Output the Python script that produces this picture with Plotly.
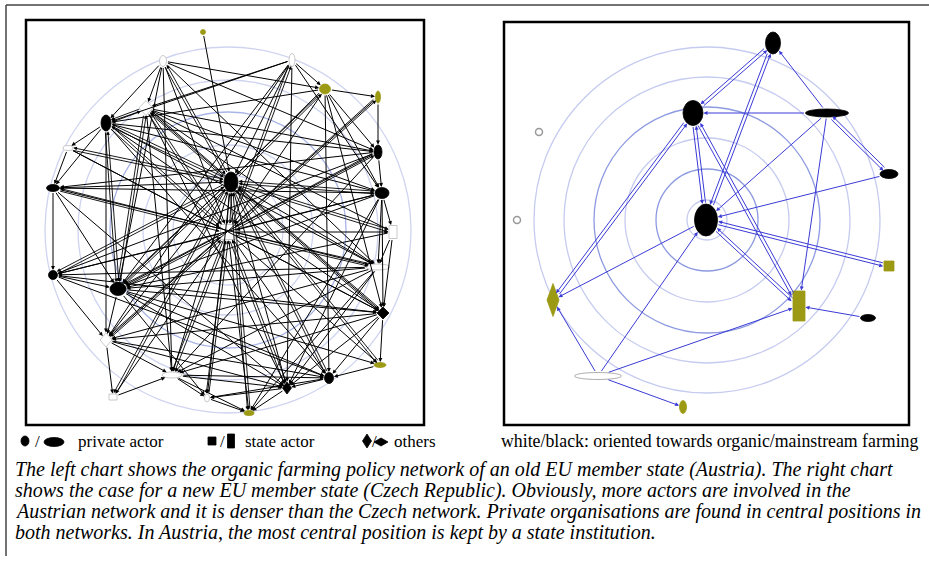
import math
import plotly.graph_objects as go

# ---------------- data ----------------
# Left network (Austria): node centres, node sizes, kind, colour
L_x = [203, 163, 292, 325, 378, 146, 106, 68, 378, 231, 53, 382, 228, 393, 378, 53, 118, 383, 106, 380, 172, 329, 287, 113, 207, 249]
L_y = [32, 61, 60, 89, 97, 108, 123, 148, 152, 182, 188, 193, 232, 232, 267, 275, 289, 313, 340, 365, 375, 378, 388, 397, 398, 413]
L_w = [5, 7, 6, 11, 5, 14, 10, 10, 8, 14, 13, 14, 15, 8, 24, 9, 16, 12, 12, 12, 20, 9, 9, 8, 5, 10]
L_h = [5, 11, 13, 10, 12, 15, 16, 5, 14, 20, 7, 11, 15, 13, 6, 9, 13, 12, 14, 5, 6, 11, 12, 6, 8, 5]
L_kind = ["e", "e", "e", "e", "e", "d", "e", "e", "e", "e", "e", "e", "r", "r", "e", "e", "e", "d", "d", "e", "e", "e", "d", "r", "e", "e"]
L_fill = ["o", "w", "w", "o", "o", "w", "k", "w", "k", "k", "k", "k", "w", "w", "w", "k", "k", "k", "w", "o", "w", "k", "k", "w", "w", "o"]
L_edges = [
    (0, 9),
    (1, 5), (1, 6), (1, 9), (1, 12), (1, 14), (1, 8), (1, 20), (1, 3), (1, 16),
    (2, 9), (2, 12), (2, 3), (2, 5), (2, 6), (2, 11), (2, 18), (2, 16), (2, 22),
    (3, 4), (3, 9), (3, 12), (3, 16), (3, 6), (3, 8), (3, 11), (3, 17), (3, 21),
    (4, 8), (4, 12), (4, 18),
    (5, 6), (5, 9), (5, 12), (5, 11), (5, 8), (5, 13), (5, 14), (5, 17), (5, 16), (5, 20), (5, 22),
    (6, 9), (6, 12), (6, 11), (6, 8), (6, 16), (6, 18), (6, 10), (6, 14), (6, 17), (6, 21), (6, 7),
    (7, 10), (7, 12), (7, 9), (7, 17),
    (8, 12), (8, 11), (8, 16), (8, 10), (8, 15), (8, 20),
    (9, 12), (9, 10), (9, 11), (9, 13), (9, 14), (9, 15), (9, 16), (9, 17), (9, 18), (9, 19),
    (9, 20), (9, 21), (9, 22), (9, 23), (9, 24), (9, 25),
    (10, 11), (10, 15), (10, 16), (10, 12), (10, 14), (10, 22),
    (11, 12), (11, 13), (11, 14), (11, 16), (11, 17), (11, 15), (11, 22), (11, 25),
    (12, 13), (12, 14), (12, 15), (12, 16), (12, 17), (12, 18), (12, 19), (12, 20), (12, 21),
    (12, 22), (12, 23), (12, 24), (12, 25),
    (13, 16), (13, 14), (13, 17),
    (14, 16), (14, 18), (14, 15), (14, 20), (14, 22), (14, 25),
    (15, 16), (15, 21), (15, 17), (15, 18),
    (16, 17), (16, 18), (16, 21), (16, 22), (16, 19), (16, 24),
    (17, 18), (17, 19), (17, 20), (17, 22), (17, 21),
    (18, 20), (18, 23), (18, 21), (18, 22),
    (19, 21),
    (20, 22), (20, 25), (20, 24), (20, 21),
    (21, 22), (21, 24), (22, 25), (22, 24), (23, 20), (24, 25),
]
L_hubs = [5, 6, 9, 12, 16]
L_radii = [55, 85, 118, 150, 183]
L_centre = (228, 230)

# Right network (Czech Republic)
R_x = [773, 693, 827, 889, 706, 889, 799, 868, 553, 598, 683, 539, 517]
R_y = [43, 113, 113, 174, 220, 266, 306, 318, 300, 376, 407, 132, 220]
R_w = [15, 20, 43, 18, 23, 10, 12, 15, 12, 47, 7, 7, 7]
R_h = [22, 25, 8, 9, 32, 10, 30, 7, 33, 7, 13, 7, 7]
R_kind = ["e", "e", "e", "e", "e", "r", "r", "e", "d", "e", "e", "e", "e"]
R_fill = ["k", "k", "k", "k", "k", "o", "o", "k", "o", "w", "o", "w", "w"]
R_double = [(0, 1), (0, 4), (2, 3), (1, 4), (1, 8), (1, 6), (4, 5), (4, 6)]
R_single = [(2, 0), (2, 1), (2, 4), (2, 6), (3, 4), (4, 8), (9, 8), (9, 4), (9, 6), (9, 10), (7, 6)]
R_radii = [20, 51, 82, 113, 143, 173]
R_dark = [False, True, False, True, False, False]
R_centre = (707, 220)

legend_items = ["private actor", "state actor", "others"]
legend_note = "white/black: oriented towards organic/mainstream farming"
caption_lines = [
    "The left chart shows the organic farming policy network of an old EU member state (Austria). The right chart",
    "shows the case for a new EU member state (Czech Republic). Obviously, more actors are involved in the",
    "Austrian network and it is denser than the Czech network. Private organisations are found in central positions in",
    "both networks. In Austria, the most central position is kept by a state institution.",
]

# ---------------- helpers ----------------
OLIVE = "#9c9a14"
FILL = {"k": "black", "w": "white", "o": OLIVE}
shapes = []
annotations = []


def node_shape(x, y, w, h, kind, fill, outline=None, lw=0.8):
    line = dict(color=outline or ("#bbbbbb" if fill == "w" else FILL[fill]), width=lw)
    if kind == "e":
        return dict(type="circle", xref="x", yref="y", x0=x - w / 2, x1=x + w / 2, y0=y - h / 2, y1=y + h / 2,
                    fillcolor=FILL[fill], line=line, layer="above")
    if kind == "r":
        return dict(type="rect", xref="x", yref="y", x0=x - w / 2, x1=x + w / 2, y0=y - h / 2, y1=y + h / 2,
                    fillcolor=FILL[fill], line=line, layer="above")
    path = f"M {x},{y - h / 2} L {x + w / 2},{y} L {x},{y + h / 2} L {x - w / 2},{y} Z"
    return dict(type="path", xref="x", yref="y", path=path, fillcolor=FILL[fill], line=line, layer="above")


def reach(w, h, kind, dx, dy):
    a, b = w / 2, h / 2
    if kind == "e":
        return a * b / math.sqrt((b * dx) ** 2 + (a * dy) ** 2)
    if kind == "r":
        return min(a / abs(dx) if dx else 1e9, b / abs(dy) if dy else 1e9)
    return 1 / (abs(dx) / a + abs(dy) / b)


def arrow(xs, ys, ws, hs, ks, s, t, color, width, size, offset=0.0):
    x0, y0, x1, y1 = xs[s], ys[s], xs[t], ys[t]
    d = math.hypot(x1 - x0, y1 - y0)
    dx, dy = (x1 - x0) / d, (y1 - y0) / d
    px, py = -dy * offset, dx * offset
    annotations.append(dict(
        x=x1 + px, y=y1 + py, ax=x0 + px, ay=y0 + py, xref="x", yref="y", axref="x", ayref="y",
        text="", showarrow=True, arrowhead=2, arrowsize=size, arrowwidth=width, arrowcolor=color,
        standoff=reach(ws[t], hs[t], ks[t], dx, dy) + 0.5,
        startstandoff=reach(ws[s], hs[s], ks[s], dx, dy),
    ))


# ---------------- frames ----------------
shapes.append(dict(type="line", xref="x", yref="y", x0=6, x1=929, y0=5, y1=5, line=dict(color="#444", width=1.5)))
shapes.append(dict(type="line", xref="x", yref="y", x0=6, x1=6, y0=5, y1=556, line=dict(color="#444", width=1.5)))
shapes.append(dict(type="rect", xref="x", yref="y", x0=26, x1=424, y0=20, y1=425, line=dict(color="black", width=2.5)))
shapes.append(dict(type="rect", xref="x", yref="y", x0=504, x1=909, y0=22, y1=425, line=dict(color="black", width=2.5)))

# concentric circles
for r in L_radii:
    col = "#a9b5e6" if r == 118 else "#cfd4f0"
    shapes.append(dict(type="circle", xref="x", yref="y", x0=L_centre[0] - r, x1=L_centre[0] + r,
                       y0=L_centre[1] - r, y1=L_centre[1] + r, line=dict(color=col, width=1.3), layer="below"))
for r, dk in zip(R_radii, R_dark):
    col = "#8d9ae0" if dk else "#c6cbf0"
    shapes.append(dict(type="circle", xref="x", yref="y", x0=R_centre[0] - r, x1=R_centre[0] + r,
                       y0=R_centre[1] - r, y1=R_centre[1] + r, line=dict(color=col, width=1.3), layer="below"))

# edges
for s, t in L_edges:
    if s in L_hubs and t in L_hubs or (s in (9, 12) or t in (9, 12)) and (s + t) % 2 == 0:
        arrow(L_x, L_y, L_w, L_h, L_kind, s, t, "black", 0.9, 0.8, offset=1.3)
        arrow(L_x, L_y, L_w, L_h, L_kind, t, s, "black", 0.9, 0.8, offset=1.3)
    else:
        arrow(L_x, L_y, L_w, L_h, L_kind, s, t, "black", 1.0, 0.8)
BLUE = "#3b3bd6"
for s, t in R_double:
    arrow(R_x, R_y, R_w, R_h, R_kind, s, t, BLUE, 1, 0.8, offset=1.6)
    arrow(R_x, R_y, R_w, R_h, R_kind, t, s, BLUE, 1, 0.8, offset=1.6)
for s, t in R_single:
    arrow(R_x, R_y, R_w, R_h, R_kind, s, t, BLUE, 1, 0.8)

# nodes
for i in range(len(L_x)):
    shapes.append(node_shape(L_x[i], L_y[i], L_w[i], L_h[i], L_kind[i], L_fill[i]))
for i in range(len(R_x)):
    out = "#999999" if R_fill[i] == "w" else None
    lw = 1.5 if i >= 11 else 0.8
    shapes.append(node_shape(R_x[i], R_y[i], R_w[i], R_h[i], R_kind[i], R_fill[i], outline=out, lw=lw))

# ---------------- legend row ----------------
LY = 441
shapes.append(node_shape(25, LY, 8, 10, "e", "k"))
shapes.append(node_shape(54, LY + 1, 20, 9, "e", "k"))
shapes.append(node_shape(212, LY, 8, 8, "r", "k"))
shapes.append(node_shape(231, LY, 7, 14, "r", "k"))
shapes.append(node_shape(367, LY, 9, 14, "d", "k"))
shapes.append(node_shape(381, LY + 1, 14, 8, "d", "k"))
TF = dict(family="Liberation Serif, Times New Roman, serif", size=17, color="black")
for x, txt in [(33, "/"), (218, "/"), (370, "/")]:
    annotations.append(dict(x=x, y=LY, xref="x", yref="y", text=txt, showarrow=False, xanchor="left",
                            yanchor="middle", font=TF))
for x, txt in zip([76, 243, 392], legend_items):
    annotations.append(dict(x=x, y=LY, xref="x", yref="y", text=txt, showarrow=False, xanchor="left",
                            yanchor="middle", font=TF))
annotations.append(dict(x=921, y=LY, xref="x", yref="y", text=legend_note, showarrow=False, xanchor="right",
                        yanchor="middle", font=dict(TF, size=17.8)))

IF = dict(family="Liberation Serif, Times New Roman, serif", size=20, color="black")
for i, line in enumerate(caption_lines):
    annotations.append(dict(x=13, y=469 + i * 21.3, xref="x", yref="y", text=f"<i>{line}</i>", showarrow=False,
                            xanchor="left", yanchor="middle", font=IF))

fig = go.Figure()
fig.add_trace(go.Scatter(x=[0, 929], y=[0, 563], mode="markers", marker=dict(opacity=0), hoverinfo="skip",
                         showlegend=False))
fig.update_layout(
    width=929, height=563, margin=dict(l=0, r=0, t=0, b=0),
    paper_bgcolor="white", plot_bgcolor="white",
    xaxis=dict(range=[0, 929], visible=False, fixedrange=True),
    yaxis=dict(range=[563, 0], visible=False, fixedrange=True),
    shapes=shapes, annotations=annotations, showlegend=False,
)
fig.write_html("out.html", config={"displayModeBar": False},
               post_script="document.body.style.margin='0';document.body.style.overflow='hidden';")
